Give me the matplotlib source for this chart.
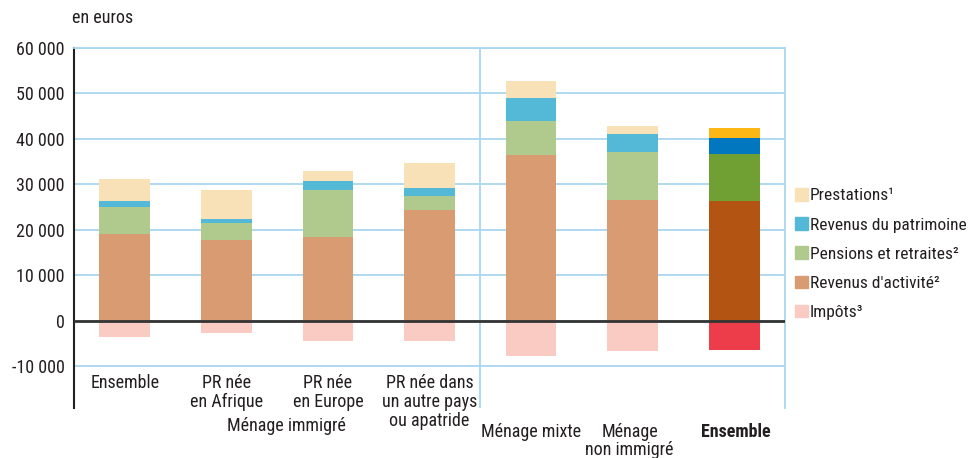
import os
import matplotlib
matplotlib.use('Agg')
import matplotlib.pyplot as plt
from matplotlib import font_manager as fm
from matplotlib.patches import Patch

# Données (en euros)
positions = [0, 1, 2, 3, 4, 5, 6]
activite = [19200, 17800, 18500, 24450, 36550, 26650, 26450]
pensions = [5900, 3800, 10350, 3100, 7500, 10550, 10350]
patrimoine = [1350, 900, 2000, 1750, 5050, 3950, 3500]
prestations = [4800, 6350, 2200, 5500, 3550, 1800, 2200]
impots = [-3450, -2650, -4400, -4400, -7700, -6600, -6400]

labels_haut = ['Ensemble', 'PR née\nen Afrique', 'PR née\nen Europe',
               'PR née dans\nun autre pays\nou apatride']
labels_bas = ['Ménage immigré', 'Ménage mixte', 'Ménage\nnon immigré', 'Ensemble']
labels_bas_x = [1.59, 4.0, 4.97, 6.02]

legende = ['Prestations¹', 'Revenus du patrimoine', 'Pensions et retraites²',
           "Revenus d'activité²", 'Impôts³']

# Couleurs : ménages / ensemble
couleurs = {
    'prestations': ('#F9E1B7', '#FDB714'),
    'patrimoine': ('#54B8D7', '#0077BF'),
    'pensions': ('#B0C98C', '#70A034'),
    'activite': ('#D99B72', '#B35412'),
    'impots': ('#F9CBC3', '#EE3D4A'),
}


def trouver_police(gras):
    # recherche d'une police étroite installée (type Helvetica Condensed)
    prefs = ['liberationsansnarrow', 'robotocondensed', 'notosanscondensed',
             'dejavusanscondensed', 'opensanscondensed', 'arialnarrow']
    trouve = {}
    for f in fm.fontManager.ttflist:
        cle = (f.name + os.path.basename(f.fname)).lower().replace(' ', '').replace('-', '')
        if f.style != 'normal':
            continue
        if 'italic' in cle or 'oblique' in cle:
            continue
        poids = f.weight if isinstance(f.weight, int) else (700 if 'bold' in str(f.weight) else 400)
        if gras and poids != 700:
            continue
        if not gras and poids != 400:
            continue
        for p in prefs:
            if p in cle and 'semi' not in cle and 'extra' not in cle:
                trouve.setdefault(p, f.fname)
    for p in prefs:
        if p in trouve:
            return fm.FontProperties(fname=trouve[p])
    return None


police = trouver_police(False)
police_gras = trouver_police(True)
if police is None:
    plt.rcParams['font.family'] = ['Liberation Sans', 'DejaVu Sans']
    police = fm.FontProperties(family=['Liberation Sans', 'DejaVu Sans'])
    police_gras = fm.FontProperties(family=['Liberation Sans', 'DejaVu Sans'], weight='bold')
    fs = 11
else:
    fs = 13
    if police_gras is None:
        police_gras = police.copy()
        police_gras.set_weight('bold')
police.set_size(fs)
police_gras.set_size(fs)
police_leg = police.copy()
police_leg.set_size(fs * 0.96)


def couleurs_barres(cle):
    clair, fonce = couleurs[cle]
    return [clair] * (len(positions) - 1) + [fonce]


fig = plt.figure(figsize=(9.68, 4.58), dpi=100)
ax = fig.add_axes([74 / 968, 1 - 408 / 458, (785 - 74) / 968, 360 / 458])

texte = '#231F20'
bleu = '#A9D7F0'
w = 0.5

# Empilement des barres
bas = [0] * len(positions)
for serie, cle in [(activite, 'activite'), (pensions, 'pensions'),
                   (patrimoine, 'patrimoine'), (prestations, 'prestations')]:
    ax.bar(positions, serie, w, bottom=bas, color=couleurs_barres(cle), zorder=2)
    bas = [b + v for b, v in zip(bas, serie)]
ax.bar(positions, impots, w, color=couleurs_barres('impots'), zorder=2)

ax.set_xlim(-0.5, 6.5)
ax.set_ylim(-19140, 60000)
ax.set_yticks(range(-10000, 60001, 10000))
ax.set_yticklabels([f'{v:,}'.replace(',', ' ') for v in range(-10000, 60001, 10000)],
                   fontproperties=police, color=texte)
ax.tick_params(axis='y', length=0, pad=6.5)
ax.set_xticks([])

ax.grid(axis='y', color=bleu, lw=1.3, zorder=0)
ax.axvline(3.5, color=bleu, lw=1.3, zorder=0)
ax.axhline(0, color='#333333', lw=2, zorder=3)

for s in ['top', 'right']:
    ax.spines[s].set_color(bleu)
    ax.spines[s].set_linewidth(1.3)
ax.spines['bottom'].set_visible(False)
ax.spines['left'].set_color('#231F20')
ax.spines['left'].set_linewidth(1.5)

# Libellés des catégories
for x, lab in zip(positions[:4], labels_haut):
    ax.text(x, -11700, lab, ha='center', va='top', fontproperties=police, color=texte,
            linespacing=1.05)
for i, (x, lab) in enumerate(zip(labels_bas_x, labels_bas)):
    y = -21200 if i == 0 else -22500
    ax.text(x, y, lab, ha='center', va='top', color=texte, linespacing=0.98,
            fontproperties=police_gras if i == 3 else police)

fig.text(72 / 968, 1 - 18 / 458, 'en euros', fontproperties=police, color=texte, va='center')

# Légende
cles = ['prestations', 'patrimoine', 'pensions', 'activite', 'impots']
handles = [Patch(color=couleurs[c][0]) for c in cles]
fig.legend(handles, legende, loc='upper left', bbox_to_anchor=(795 / 968, 1 - 188 / 458),
           frameon=False, prop=police_leg, handlelength=0.74, handleheight=0.74,
           handletextpad=0.12, labelspacing=0.8, borderpad=0, borderaxespad=0,
           labelcolor=texte)

fig.savefig('out.png', dpi=100)
